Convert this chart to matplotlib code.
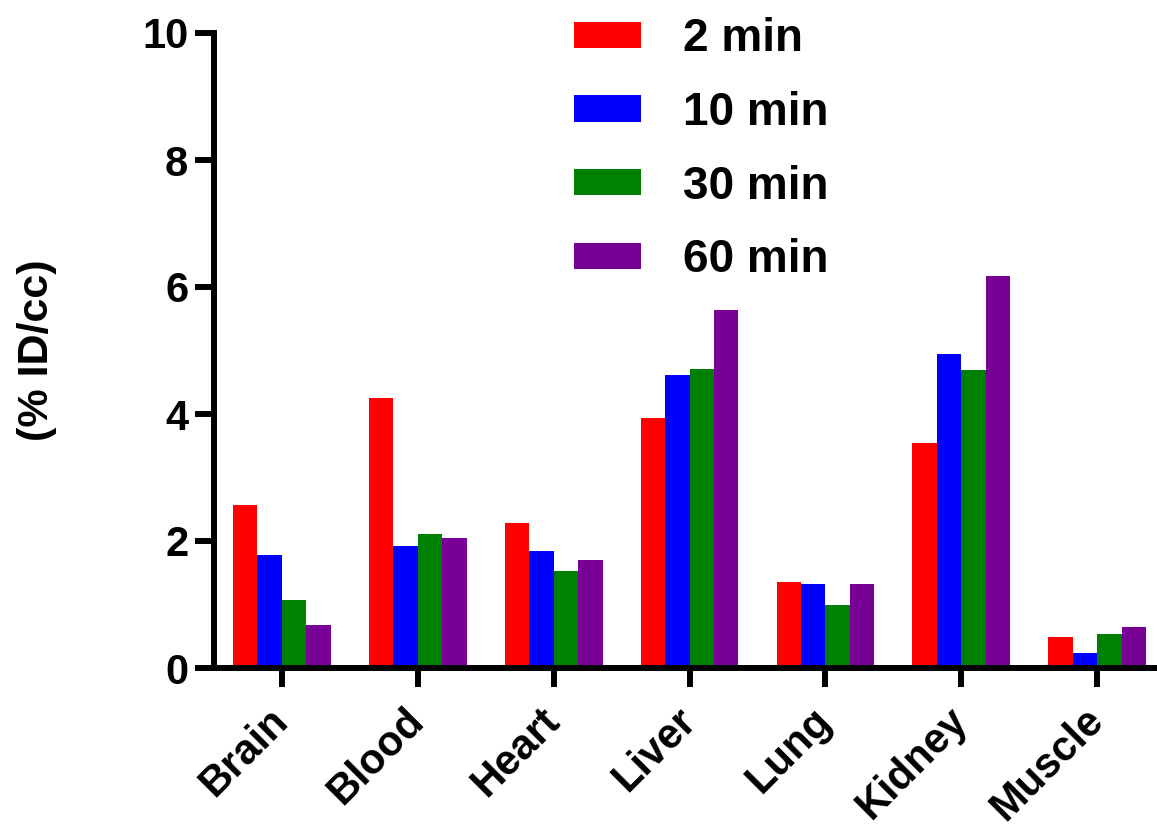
import numpy as np
import matplotlib
matplotlib.use('Agg')
import matplotlib.pyplot as plt

plt.rcParams['font.family'] = ['Liberation Sans', 'DejaVu Sans']
plt.rcParams['font.weight'] = 'bold'

organs = ['Brain', 'Blood', 'Heart', 'Liver', 'Lung', 'Kidney', 'Muscle']
times = ['2 min', '10 min', '30 min', '60 min']
colors = ['#ff0000', '#0000ff', '#008000', '#780096']

min2 = [2.57, 4.25, 2.29, 3.94, 1.36, 3.54, 0.49]
min10 = [1.78, 1.92, 1.85, 4.61, 1.33, 4.94, 0.24]
min30 = [1.07, 2.11, 1.53, 4.71, 1.00, 4.70, 0.53]
min60 = [0.67, 2.05, 1.70, 5.63, 1.33, 6.17, 0.65]
series = [min2, min10, min30, min60]

fig = plt.figure(figsize=(11.57, 8.27), dpi=100)
ax = fig.add_axes([214 / 1157, 159 / 827, (1157 - 214) / 1157, 635 / 827])

x = np.arange(len(organs))
w = 0.18
for i, (vals, lab, c) in enumerate(zip(series, times, colors)):
    ax.bar(x + (i - 1.5) * w, vals, w, color=c, label=lab, linewidth=0)

ax.set_xlim(-0.5, 6.44)
ax.set_ylim(0, 10)
ax.set_yticks([0, 2, 4, 6, 8, 10])
ax.set_xticks(x)
ax.set_xticklabels(organs, rotation=45, ha='right', va='center', rotation_mode='anchor',
                   fontsize=30, fontweight='bold')
ax.tick_params(axis='y', labelsize=30, width=4.3, length=13.5, pad=5)
ax.tick_params(axis='x', width=4.3, length=13.5, pad=20)

for s in ['top', 'right']:
    ax.spines[s].set_visible(False)
for s in ['left', 'bottom']:
    ax.spines[s].set_linewidth(4.3)

ax.set_ylabel('(% ID/cc)', fontsize=31, fontweight='bold')
ax.yaxis.set_label_coords(-0.166, 0.5)

ax.legend(loc='upper left', bbox_to_anchor=(574 / 1157, 1 - 17 / 827),
          bbox_transform=fig.transFigure, frameon=False, fontsize=33,
          handlelength=1.46, handleheight=0.5, handletextpad=0.92,
          labelspacing=0.65, borderpad=0, borderaxespad=0)

fig.savefig('out.png', dpi=100)
